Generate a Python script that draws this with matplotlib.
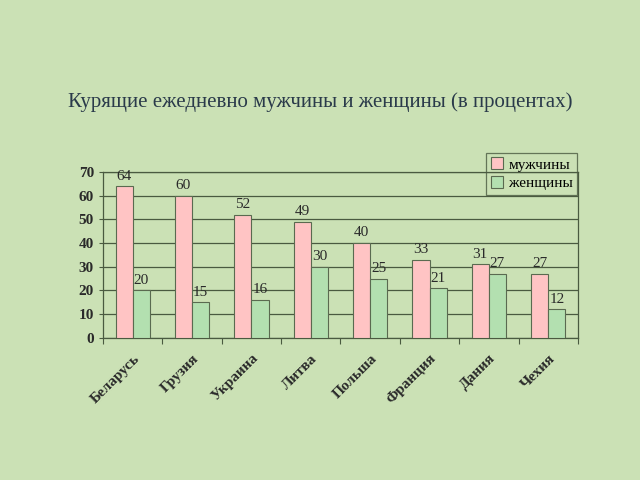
import numpy as np
import matplotlib.pyplot as plt

# данные
strany = ['Беларусь', 'Грузия', 'Украина', 'Литва', 'Польша', 'Франция', 'Дания', 'Чехия']
muzhchiny = [64, 60, 52, 49, 40, 33, 31, 27]
zhenshchiny = [20, 15, 16, 30, 25, 21, 27, 12]

plt.rcParams['font.family'] = ['Liberation Serif', 'DejaVu Serif']

fig = plt.figure(figsize=(6.4, 4.8), dpi=100)
fig.patch.set_facecolor('#cbe1b5')

ax = fig.add_axes([0.161, 0.296, 0.742, 0.346])
ax.set_facecolor('none')

x = np.arange(len(strany))
w = 0.29
b1 = ax.bar(x - w / 2, muzhchiny, w, color='#ffc4c4', edgecolor='#5a6a50', linewidth=0.8, label='мужчины', zorder=3)
b2 = ax.bar(x + w / 2, zhenshchiny, w, color='#b3e0b0', edgecolor='#5a6a50', linewidth=0.8, label='женщины', zorder=3)

for bars, vals in [(b1, muzhchiny), (b2, zhenshchiny)]:
    for r, v in zip(bars, vals):
        ax.text(r.get_x() + r.get_width() / 2, v + 1.5, str(v), ha='center', va='bottom',
                fontsize=11, color='#2a2a2a', zorder=4)

ax.set_xlim(-0.5, len(strany) - 0.5)
ax.set_ylim(0, 70)
ax.set_yticks(range(0, 71, 10))
ax.yaxis.grid(True, color='#4a5a40', linewidth=0.9, zorder=1)
ax.tick_params(axis='y', labelsize=11, length=3, color='#4a5a40')
for t in ax.get_yticklabels():
    t.set_fontweight('bold')
    t.set_color('#2a2a2a')

# деления между группами
ax.set_xticks(np.arange(-0.5, len(strany), 1.0), minor=False)
ax.set_xticklabels([])
ax.tick_params(axis='x', length=4, color='#4a5a40')
ax.set_xticks(x, minor=True)
ax.set_xticklabels(strany, minor=True, rotation=45, ha='right', rotation_mode='anchor',
                   fontsize=11, fontweight='bold', color='#2a2a2a')
ax.tick_params(axis='x', which='minor', length=0, pad=10)

for s in ['left', 'right', 'bottom', 'top']:
    ax.spines[s].set_color('#4a5a40')
    ax.spines[s].set_linewidth(0.9)

leg = ax.legend(loc='upper right', bbox_to_anchor=(1.015, 1.16), fontsize=11, frameon=True,
                fancybox=False, edgecolor='#4a5a40', facecolor='none',
                handlelength=0.8, handleheight=0.8, borderpad=0.3, labelspacing=0.3, handletextpad=0.4)
leg.get_frame().set_linewidth(0.9)

fig.text(0.5, 0.788, 'Курящие ежедневно мужчины и женщины (в процентах)', ha='center', va='center',
         fontsize=15, color='#2a3a4a')

fig.savefig('out.png', dpi=100, facecolor=fig.get_facecolor())
